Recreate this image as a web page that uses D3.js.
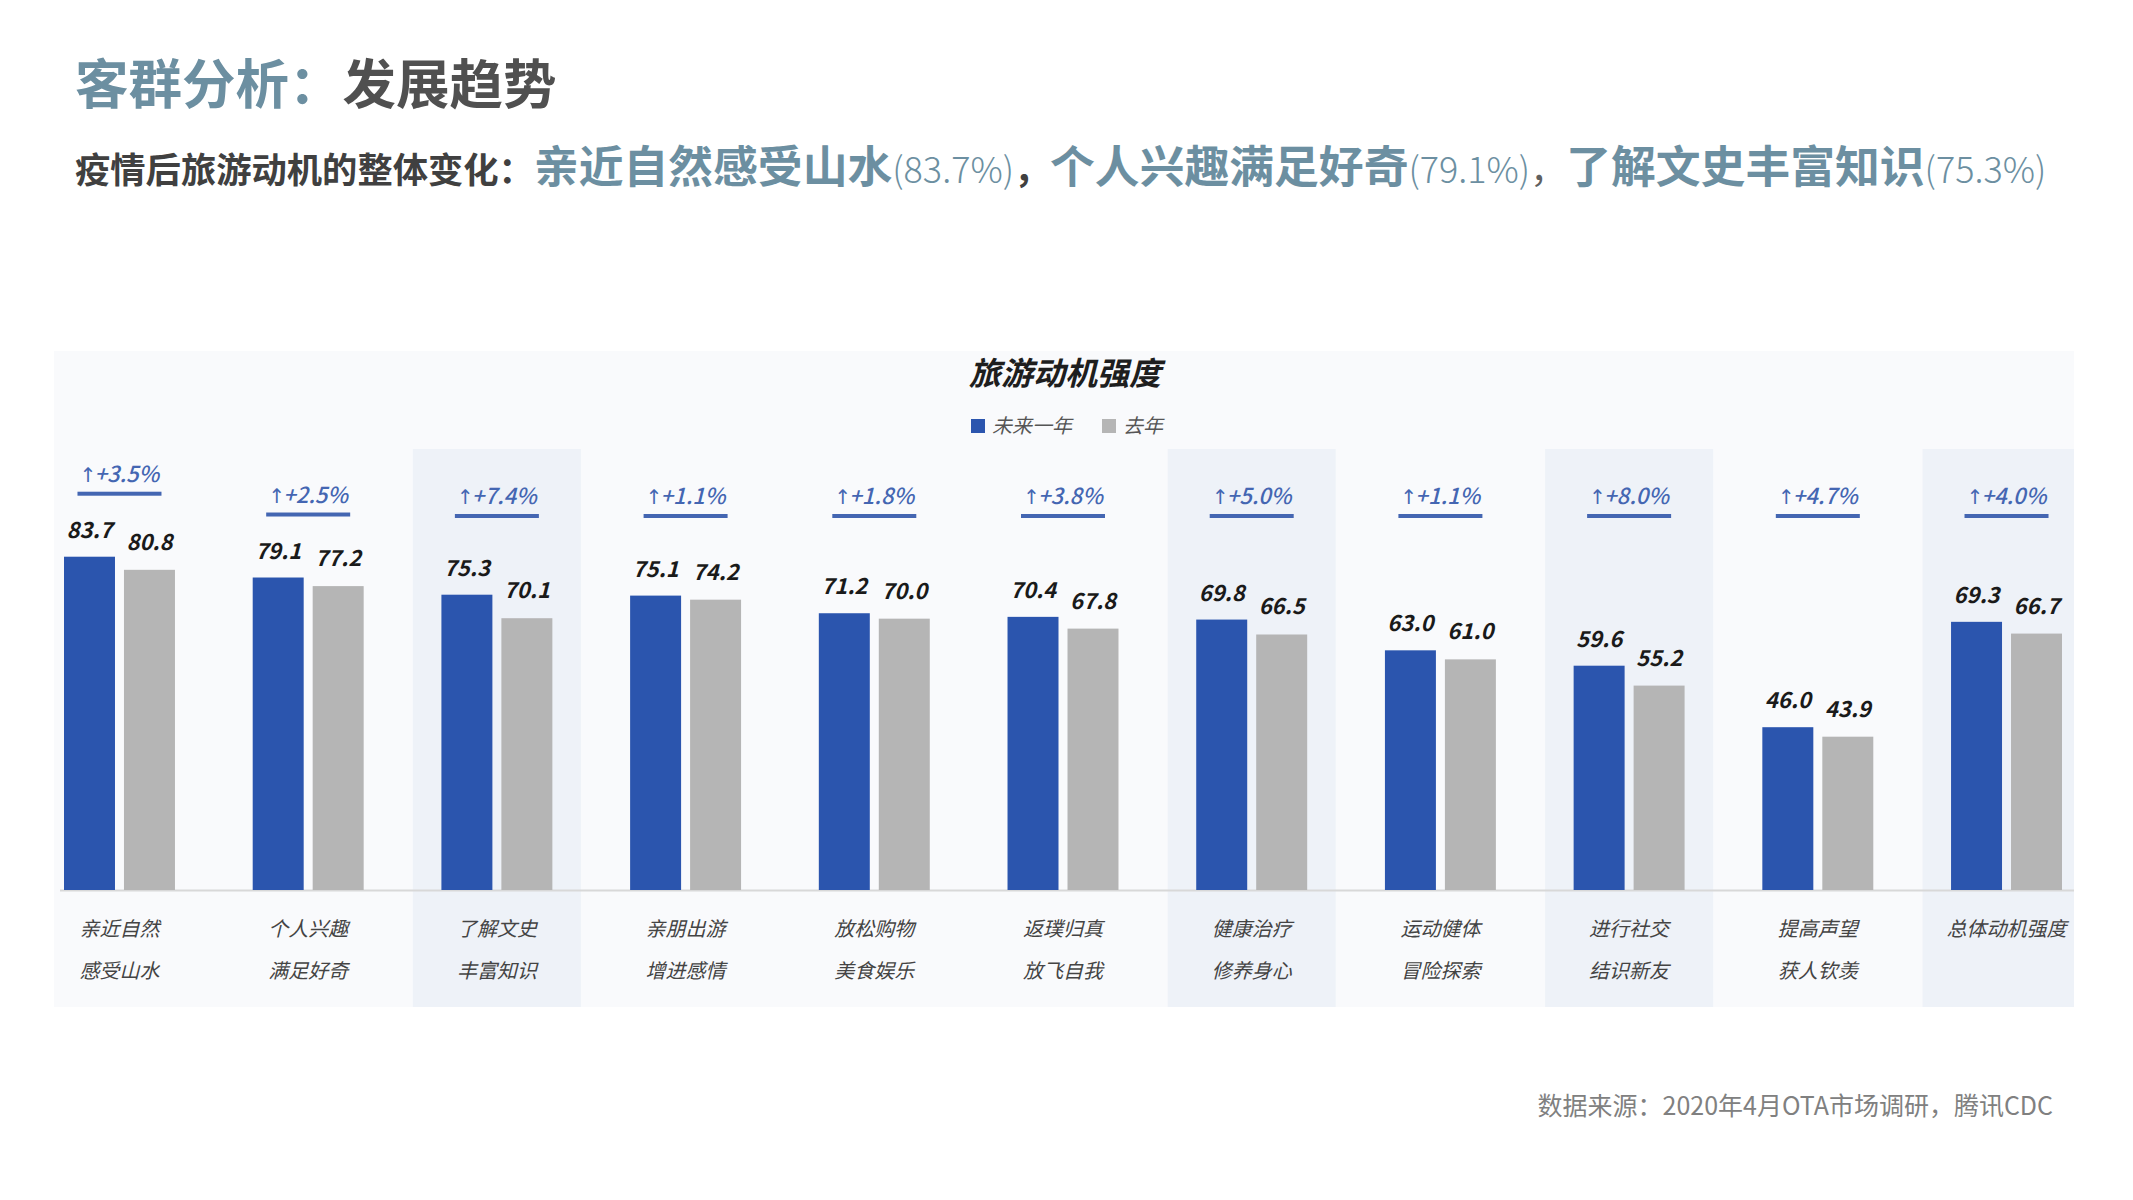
<!DOCTYPE html>
<html>
<head>
<meta charset="utf-8">
<script src="https://cdn.jsdelivr.net/npm/d3@7"></script>
<style>
  html, body { margin: 0; padding: 0; background: #ffffff; }
  svg { display: block; }
  text { font-family: "Noto Sans CJK SC", "Noto Sans", sans-serif; }
</style>
</head>
<body>
<svg id="chart" width="2133" height="1200"></svg>
<script>
// ---------- data ----------
const labelLine1 = ["亲近自然", "个人兴趣", "了解文史", "亲朋出游", "放松购物", "返璞归真", "健康治疗", "运动健体", "进行社交", "提高声望", "总体动机强度"];
const labelLine2 = ["感受山水", "满足好奇", "丰富知识", "增进感情", "美食娱乐", "放飞自我", "修养身心", "冒险探索", "结识新友", "获人钦羡", ""];
const futureYear = [83.7, 79.1, 75.3, 75.1, 71.2, 70.4, 69.8, 63.0, 59.6, 46.0, 69.3];
const lastYear   = [80.8, 77.2, 70.1, 74.2, 70.0, 67.8, 66.5, 61.0, 55.2, 43.9, 66.7];
const growth     = ["+3.5%", "+2.5%", "+7.4%", "+1.1%", "+1.8%", "+3.8%", "+5.0%", "+1.1%", "+8.0%", "+4.7%", "+4.0%"];
const highlighted = [2, 6, 8, 10];
const seriesNames = ["未来一年", "去年"];

// ---------- setup ----------
const svg = d3.select("#chart");
const BLUE = "#2b55ae", GRAY = "#b5b5b5", ACCENT = "#4466b2", SLATE = "#6c8fa1";

const idx = d3.range(labelLine1.length);
const x0 = d3.scaleBand().domain(idx).range([64, 2062]).paddingInner(0.412).paddingOuter(0);
const x1 = d3.scaleBand().domain([0, 1]).range([0, x0.bandwidth()]).paddingInner(0.15);
const y = d3.scaleLinear().domain([10, 100]).range([890, 483]);

// ---------- header ----------
const title = svg.append("text").attr("x", 75).attr("y", 104)
  .attr("font-size", 53.5).attr("font-weight", 700);
title.append("tspan").attr("fill", SLATE).text("客群分析：");
title.append("tspan").attr("fill", "#505050").text("发展趋势");

const sub = svg.append("text").attr("x", 75).attr("y", 183).attr("font-weight", 700);
const subParts = [
  ["疫情后旅游动机的整体变化：", 35.3, 700, "#404040"],
  ["亲近自然感受山水", 44.8, 700, SLATE],
  ["(83.7%)", 36, 300, SLATE],
  ["，", 36, 700, "#404040"],
  ["个人兴趣满足好奇", 44.8, 700, SLATE],
  ["(79.1%)", 36, 300, SLATE],
  ["，", 36, 400, "#606060"],
  ["了解文史丰富知识", 44.8, 700, SLATE],
  ["(75.3%)", 36, 300, SLATE]
];
subParts.forEach(p => {
  sub.append("tspan").attr("font-size", p[1]).attr("font-weight", p[2]).attr("fill", p[3]).text(p[0]);
});

// ---------- chart panel ----------
svg.append("rect").attr("x", 54).attr("y", 351).attr("width", 2020).attr("height", 656)
  .attr("fill", "#f9fafc");

svg.append("g").selectAll("rect").data(highlighted).join("rect")
  .attr("x", d => x0(d) + x0.bandwidth() / 2 - 84)
  .attr("y", 449)
  .attr("width", d => Math.min(168, 2074 - (x0(d) + x0.bandwidth() / 2 - 84)))
  .attr("height", 558)
  .attr("fill", "#eef2f8");

svg.append("text").attr("x", 1065).attr("y", 385).attr("text-anchor", "middle")
  .attr("font-size", 32).attr("font-weight", 700).attr("font-style", "italic")
  .attr("fill", "#1e1e1e").text("旅游动机强度");

// legend
const legend = svg.append("g");
const legendX = [971, 1102];
seriesNames.forEach((n, i) => {
  legend.append("rect").attr("x", legendX[i]).attr("y", 419).attr("width", 14).attr("height", 14)
    .attr("fill", i === 0 ? BLUE : GRAY);
  legend.append("text").attr("x", legendX[i] + 21).attr("y", 433)
    .attr("font-size", 20).attr("font-style", "italic").attr("fill", "#555").text(n);
});

// baseline
svg.append("line").attr("x1", 60).attr("x2", 2074).attr("y1", y(10) + 0.5).attr("y2", y(10) + 0.5)
  .attr("stroke", "#d8d8d8").attr("stroke-width", 2);

// bars
const groups = svg.append("g").selectAll("g").data(idx).join("g")
  .attr("transform", d => `translate(${x0(d)},0)`);

groups.append("rect")
  .attr("x", x1(0)).attr("width", x1.bandwidth())
  .attr("y", d => y(futureYear[d])).attr("height", d => y(10) - y(futureYear[d]))
  .attr("fill", BLUE);
groups.append("rect")
  .attr("x", x1(1)).attr("width", x1.bandwidth())
  .attr("y", d => y(lastYear[d])).attr("height", d => y(10) - y(lastYear[d]))
  .attr("fill", GRAY);

// value labels
const valFont = "Roboto, 'DejaVu Sans', sans-serif";
groups.append("text")
  .attr("x", x1(0) + x1.bandwidth() / 2).attr("y", d => y(futureYear[d]) - 19)
  .attr("text-anchor", "middle").attr("font-family", valFont)
  .attr("font-size", 22).attr("font-weight", 700).attr("font-style", "italic")
  .attr("fill", "#1a1a1a").text(d => futureYear[d].toFixed(1));
groups.append("text")
  .attr("x", x1(1) + x1.bandwidth() / 2).attr("y", d => y(lastYear[d]) - 20)
  .attr("text-anchor", "middle").attr("font-family", valFont)
  .attr("font-size", 22).attr("font-weight", 700).attr("font-style", "italic")
  .attr("fill", "#1a1a1a").text(d => lastYear[d].toFixed(1));

// growth labels + underline
const growthY = d => Math.min(504, y(futureYear[d]) - 75);
const gText = groups.append("text")
  .attr("x", x0.bandwidth() / 2).attr("y", growthY)
  .attr("text-anchor", "middle").attr("font-family", valFont)
  .attr("font-size", 22).attr("font-weight", 500).attr("font-style", "italic")
  .attr("fill", ACCENT);
gText.append("tspan").attr("font-family", "'DejaVu Sans', sans-serif").attr("font-size", 20).text("↑");
gText.append("tspan").attr("dx", -2).text(d => growth[d]);
groups.append("rect")
  .attr("x", x0.bandwidth() / 2 - 42).attr("y", d => growthY(d) + 10)
  .attr("width", 84).attr("height", 4).attr("fill", ACCENT);

// category labels
groups.append("text")
  .attr("x", x0.bandwidth() / 2).attr("y", 936)
  .attr("text-anchor", "middle").attr("font-size", 20).attr("font-style", "italic")
  .attr("fill", "#444").text(d => labelLine1[d]);
groups.append("text")
  .attr("x", x0.bandwidth() / 2).attr("y", 978)
  .attr("text-anchor", "middle").attr("font-size", 20).attr("font-style", "italic")
  .attr("fill", "#444").text(d => labelLine2[d]);

// footer
svg.append("text").attr("x", 2053).attr("y", 1115).attr("text-anchor", "end")
  .attr("font-size", 25).attr("fill", "#808080")
  .text("数据来源：2020年4月OTA市场调研，腾讯CDC");
</script>
</body>
</html>
